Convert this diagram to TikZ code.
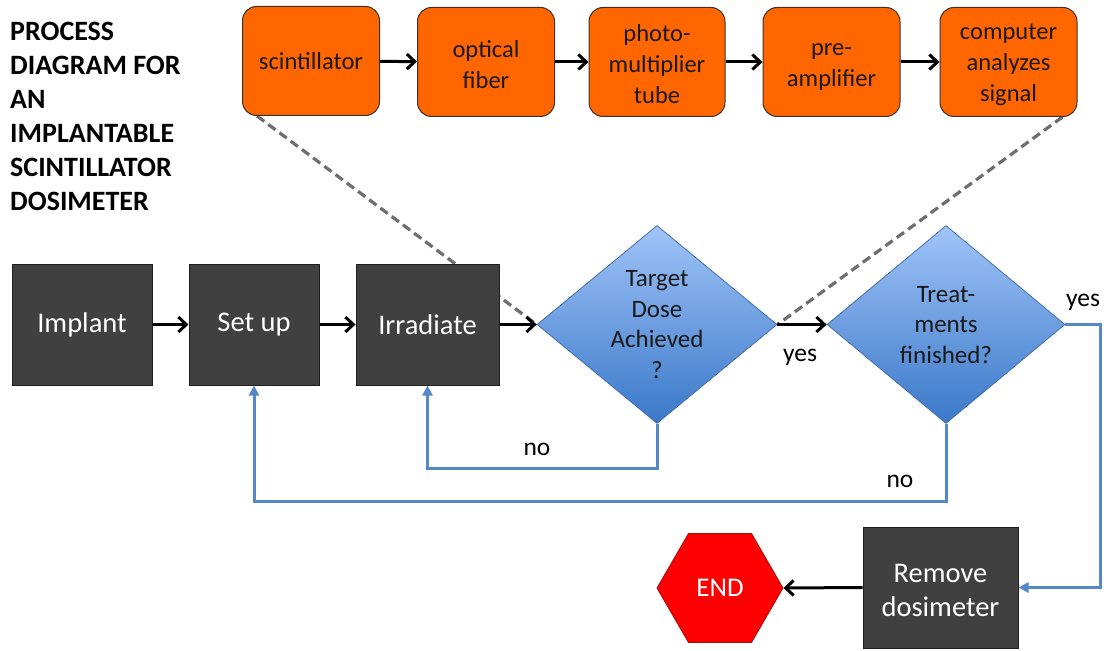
\documentclass[tikz,border=0pt]{standalone}
\usepackage{fontspec}
\setmainfont{Carlito}
\usetikzlibrary{shapes.geometric,arrows.meta,backgrounds}
\definecolor{darkfill}{RGB}{64,64,64}
\definecolor{darkedge}{RGB}{30,30,30}
\definecolor{orangefill}{RGB}{255,102,0}
\definecolor{orangeedge}{RGB}{60,50,45}
\definecolor{dtop}{RGB}{160,196,248}
\definecolor{dbottom}{RGB}{58,120,200}
\definecolor{dedge}{RGB}{70,110,170}
\definecolor{flowblue}{RGB}{84,136,200}
\definecolor{dashgray}{RGB}{110,110,110}
\definecolor{endred}{RGB}{255,0,0}
\definecolor{endedge}{RGB}{150,20,20}
\definecolor{otext}{RGB}{25,25,25}
\begin{document}
\begin{tikzpicture}[x=1pt,y=-1pt,
  dbox/.style={draw=darkedge, fill=darkfill, text=white, line width=1pt,
    minimum height=121, inner sep=0pt, align=center,
    font=\fontsize{28.5}{34}\selectfont},
  obox/.style={draw=orangeedge, fill=orangefill, text=otext, line width=1pt,
    rounded corners=14pt, minimum width=137, minimum height=109, inner sep=0pt,
    align=center, font=\fontsize{24.5}{31}\selectfont},
  decision/.style={diamond, draw=dedge, line width=0.8pt, top color=dtop,
    bottom color=dbottom, inner sep=0pt, minimum width=240, minimum height=198},
  dtext/.style={align=center, text=otext, inner sep=0pt,
    font=\fontsize{25}{30.5}\selectfont},
  lbl/.style={inner sep=0pt, text=black, font=\fontsize{25.5}{30}\selectfont},
  blk/.style={draw=black, line width=3pt, -{Straight Barb[length=8pt,width=15pt]}},
  fb/.style={draw=flowblue, line width=3pt, -{Triangle[length=10pt,width=10pt]}},
  dsh/.style={draw=dashgray, line width=3.2pt, dash pattern=on 9pt off 5pt}
]
\useasboundingbox (0,0) rectangle (1107,650);

% title
\node (title) [anchor=north west, inner sep=0pt, align=left,
  font=\bfseries\fontsize{28}{34}\selectfont] at (10,22)
  {PROCESS\\DIAGRAM FOR\\AN\\IMPLANTABLE\\SCINTILLATOR\\DOSIMETER};

% orange chain
\node (scint) [obox] at (311,61) {scintillator};
\node (fiber) [obox] at (486,62) {\strut optical\\fiber};
\node (pmt) [obox, minimum width=136] at (657,62) {\strut photo-\\multiplier\\tube};
\node (preamp) [obox] at (831.5,62) {\strut pre-\\amplifier};
\node (comp) [obox] at (1008.5,62) {\strut computer\\analyzes\\signal};

% main flow
\node (implant) [dbox, minimum width=140] at (82,324.5) {Implant};
\node (setup) [dbox, minimum width=130] at (254,324.5) {Set up};
\node (irr) [dbox, minimum width=143] at (427.5,324.5) {Irradiate};
\node (target) [decision] at (657,324.5) {};
\node (targett) [dtext] at (657,324.5) {Target\\Dose\\Achieved\\?};
\node (treat) [decision, minimum width=238] at (946,324.5) {};
\node (treatt) [dtext] at (946,325) {Treat-\\ments\\finished?};
\node (remove) [dbox, minimum width=155] at (940.5,587.5) {\strut Remove\\dosimeter};
\node (end) [regular polygon, regular polygon sides=6, minimum size=126,
  inner sep=0pt, fill=endred, draw=endedge, line width=0.8pt, text=white,
  font=\fontsize{27}{32}\selectfont] at (720,588) {END};

% dashed guide lines (behind)
\begin{scope}[on background layer]
\draw[dsh] ([xshift=15pt]scint.south west) -- (target.west);
\draw[dsh] ([xshift=-15pt]comp.south east) -- (target.east);
\end{scope}

% black arrows
\draw[blk] (scint) -- (fiber);
\draw[blk] (fiber) -- (pmt);
\draw[blk] (pmt) -- (preamp);
\draw[blk] (preamp) -- (comp);
\draw[blk] (implant) -- (setup);
\draw[blk] (setup) -- (irr);
\draw[blk] (irr.east) -- (target.west);
\draw[blk] (target.east) -- (treat.west);
\draw[blk] (remove.west) -- (end.east);

% blue feedback
\draw[fb] (target.south) -- ++(0,45) -| (irr.south);
\draw[fb] (treat.south) -- ++(0,78) -| (setup.south);
\draw[fb] (treat.east) -- ++(35,0) |- (remove.east);

% labels
\node (yes1) [lbl] at (800,357) {yes};
\node (yes2) [lbl] at (1083,302) {yes};
\node (no1) [lbl] at (537,449) {no};
\node (no2) [lbl] at (900,481) {no};
\end{tikzpicture}
\end{document}
